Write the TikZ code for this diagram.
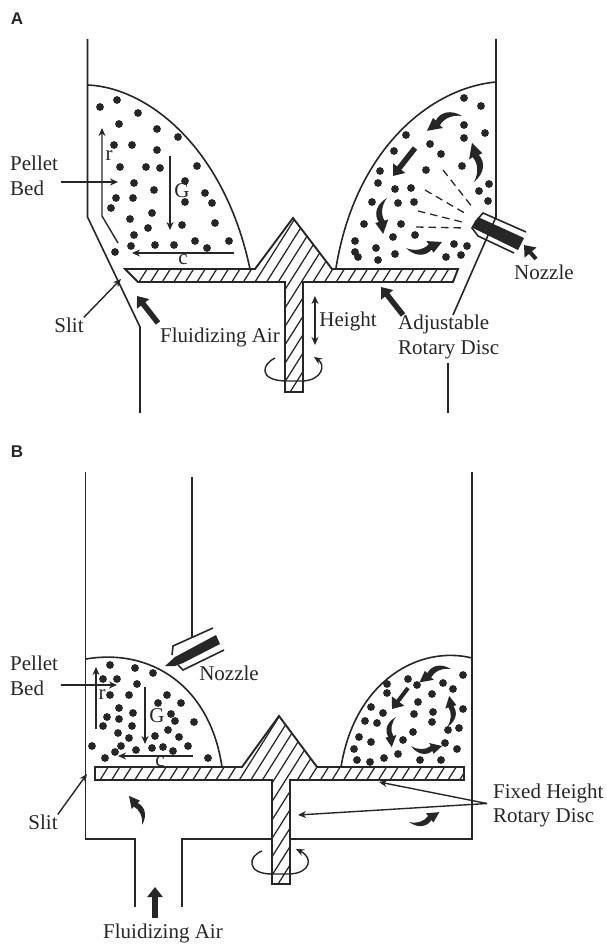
\documentclass[tikz,border=0pt]{standalone}
\usepackage{fontspec}
\setmainfont{Liberation Serif}
\newfontfamily\panelfont{Liberation Sans}
\usepackage{xcolor}
\usetikzlibrary{arrows.meta, positioning}
\definecolor{inkgray}{gray}{0.15}

\tikzset{
  swirl/.pic={
    \fill[inkgray] (0,0) .. controls (8,11) and (19,12) .. (26,6) -- (27.5,9.5) -- (38,0)
      -- (22.2,-3.6) -- (24,0) .. controls (18,5) and (8,5) .. (0,0) -- cycle;
  }
}

\begin{document}
\begin{tikzpicture}[x=1pt, y=-1pt, line join=miter,
    every node/.style={font=\fontsize{21}{24.5}\selectfont, inner sep=0pt, text=inkgray},
    wall/.style={draw=inkgray, line width=1.6pt},
    hatchline/.style={draw=inkgray, line width=1.25pt},
    outline/.style={draw=inkgray, line width=1.9pt},
    leader/.style={draw=inkgray, line width=1.4pt, -{Stealth[length=8pt,width=7pt]}},
    twoway/.style={draw=inkgray, line width=1.4pt, {Stealth[length=8pt,width=7pt]}-{Stealth[length=8pt,width=7pt]}},
    spray/.style={draw=inkgray, line width=1.3pt, dash pattern=on 7.5pt off 5pt},
    turning/.style={draw=inkgray, line width=1.4pt, -{Stealth[length=8pt,width=7pt]}},
    flowarrow/.style={draw=inkgray, line width=5.5pt, -{Triangle[length=10pt,width=15pt]}},
    paneltag/.style={font=\panelfont\bfseries\fontsize{17}{20}\selectfont}]
    \useasboundingbox (0,0) rectangle (607,944);

    % Panel A
    \node[paneltag] (tagA) at (17,19) {A};
    \draw[wall] (87.5,39) -- (87.5,217) -- (140,327) -- (140,413);
    \draw[wall] (496,39) -- (496,217) -- (453,315);
    \draw[wall] (448,363) -- (448,413);

    % Bed A
    \draw[wall] (88,85) .. controls (150,88) and (225,150) .. (250,269);
    \draw[wall] (496,82) .. controls (430,88) and (355,150) .. (336,268);
    \foreach \x/\y in {100/107,117/100,138/113,119/124,157/129,178/137,114/145,132/145,157/150,
        120/167,146/167,160/168,197/166,185/181,134/183,154/190,116/198,133/198,205/193,185/202,
        212/203,111/208,152/213,130/219,148/228,134/235,182/225,215/223,131/246,115/252,155/245,
        174/245,195/241,207/248,229/241,
        464/98,481/106,464/125,485/133,464/138,406/135,430/144,441/154,394/151,462/166,426/170,
        380/171,378/183,489/184,479/191,395/189,411/188,488/201,372/202,398/203,414/202,364/224,
        401/224,415/235,393/237,355/241,376/248,454/244,467/246,355/252,358/257,395/254,378/260,
        446/257,461/255}
      \fill[inkgray] (\x,\y) circle (3.9pt);

    % Disc A
    \begin{scope}
      \clip (125,269) -- (255,269) -- (293,218) -- (332,269) -- (458,269) -- (453,282) -- (303,282)
        -- (303,392) -- (285,392) -- (285,282) -- (138,282) -- cycle;
      \foreach \k in {139,150.6,...,480}
        \draw[hatchline] ({\k+50.4},202) -- ({\k-75.6},402);
    \end{scope}
    \draw[outline] (125,269) -- (255,269) -- (293,218) -- (332,269) -- (458,269) -- (453,282) -- (303,282)
        -- (303,392) -- (285,392) -- (285,282) -- (138,282) -- cycle;
    \draw[turning] (275,358) .. controls (262,364) and (258,380) .. (285,381)
        -- (303,381) .. controls (322,380) and (326,365) .. (314,357);

    % Nozzle A
    \draw[wall] (526,232) -- (483,213) -- (476,221) -- (472,228) -- (478,236) -- (514,253);
    \fill[inkgray] (478,217) -- (524,238) -- (518,250) -- (473,228) -- cycle;
    \draw[spray] (443,170) -- (473,208);
    \draw[spray] (425,190) -- (468,215);
    \draw[spray] (418,211) -- (462,222);
    \draw[spray] (416,227) -- (465,228);

    % Flow A
    \pic[rotate=203] at (462,116) {swirl};
    \pic[rotate=93, scale=1.03] at (474,182) {swirl};
    \pic[rotate=264, scale=0.95] at (387,198) {swirl};
    \pic[rotate=9.5, scale=0.96] at (406,248) {swirl};
    \draw[flowarrow] (415,148) -- (393,176);
    \draw[flowarrow] (158,323) -- (137,296);
    \draw[flowarrow] (403,315) -- (381,287);
    \draw[flowarrow, line width=4pt] (536,259) -- (524,245);

    % Labels A
    \node[align=left, anchor=west] (pelletA) at (10,176) {Pellet\\Bed};
    \coordinate (pelletStartA) at (61,182);
    \coordinate (pelletTipA) at (118,182);
    \draw[leader] (pelletStartA) -- (pelletTipA);
    \node (slitA) at (69,325) {Slit};
    \coordinate (slitTipA) at (121,279);
    \draw[leader] (slitA.north east) -- (slitTipA);
    \node (airA) at (220,337) {Fluidizing Air};
    \node (heightA) at (348,321) {Height};
    \coordinate (heightTopA) at (315,296);
    \coordinate (heightEndA) at (315,345);
    \draw[twoway] (heightTopA) -- (heightEndA);
    \node[align=left, anchor=west] (discA) at (398,337) {Adjustable\\Rotary Disc};
    \node[anchor=west] (nozzleA) at (514,272) {Nozzle};

    % Velocity arrows A
    \draw[leader] (118,243) -- (102,216) -- (102,128);
    \draw[leader] (170,156) -- (170,230);
    \draw[leader] (234,253) -- (132,253);
    \node (rA) at (109,156) {r};
    \node (gA) at (182,191) {G};
    \node (cA) at (183,260) {c};

    % Panel B
    \node[paneltag] (tagB) at (17,452) {B};
    \draw[wall] (85.5,472) -- (85.5,839) -- (135,839) -- (135,907);
    \draw[wall] (472,472) -- (472,839) -- (290,839);
    \draw[wall] (272,839) -- (182,839) -- (182,907);
    \draw[wall] (191.7,477) -- (191.7,637);

    % Bed B
    \draw[wall] (86,659) .. controls (150,648) and (210,685) .. (222,767);
    \draw[wall] (472,658) .. controls (420,645) and (355,680) .. (341,767);
    \foreach \x/\y in {110/665,135/668,153/673,103/679,117/679,137/684,110/695,129/695,167/695,
        158/703,181/703,119/708,107/717,119/719,133/713,171/714,175/721,194/722,103/726,132/726,
        168/730,118/733,129/738,155/736,179/737,92/746,121/746,136/750,152/748,163/747,173/751,
        188/746,115/752,105/758,208/758,
        463/675,443/683,453/689,408/679,417/685,387/684,387/693,432/694,418/702,371/707,383/713,
        414/714,433/712,463/709,432/722,365/721,377/723,459/728,448/730,413/732,359/737,403/740,
        371/742,445/743,354/749,457/749,398/754,384/758,357/760,370/762,420/760,441/760}
      \fill[inkgray] (\x,\y) circle (3.9pt);

    % Disc B
    \begin{scope}
      \clip (95,767) -- (242,767) -- (279,716) -- (317,767) -- (464,767) -- (464,780) -- (290,780)
        -- (290,884) -- (272,884) -- (272,780) -- (95,780) -- cycle;
      \foreach \k in {100,111.6,...,480}
        \draw[hatchline] ({\k+50.4},700) -- ({\k-75.6},900);
    \end{scope}
    \draw[outline] (95,767) -- (242,767) -- (279,716) -- (317,767) -- (464,767) -- (464,780) -- (290,780)
        -- (290,884) -- (272,884) -- (272,780) -- (95,780) -- cycle;
    \draw[turning] (262,851) .. controls (248,856) and (246,874) .. (272,874)
        -- (290,874) .. controls (310,873) and (314,858) .. (296,849);

    % Nozzle B
    \draw[wall] (213,628) -- (173,646) -- (172,655);
    \draw[wall] (224,650) -- (183,670) -- (178,665);
    \fill[inkgray] (165,666) -- (175,657) -- (216,635) -- (220,644) -- (183,663) -- (175,666) -- cycle;

    % Flow B
    \pic[rotate=203, scale=0.9] at (451,669) {swirl};
    \pic[rotate=86, scale=0.82] at (447,727) {swirl};
    \pic[rotate=262, scale=0.8] at (396,717) {swirl};
    \pic[scale=0.82] at (411,746) {swirl};
    \pic[rotate=18, scale=0.84] at (409,822) {swirl};
    \pic[rotate=114, scale=0.84] at (142,825) {swirl};
    \draw[flowarrow, line width=4pt] (408,688) -- (392,709);
    \draw[flowarrow, line width=6pt] (155,918) -- (155,887);

    % Labels B
    \node[align=left, anchor=west] (pelletB) at (10,676) {Pellet\\Bed};
    \coordinate (pelletStartB) at (61,685);
    \coordinate (pelletTipB) at (117,685);
    \draw[leader] (pelletStartB) -- (pelletTipB);
    \node (slitB) at (43,822) {Slit};
    \coordinate (slitTipB) at (87,774);
    \draw[leader] (slitB.north east) -- (slitTipB);
    \node (nozzleB) at (229,673) {Nozzle};
    \node (airB) at (163,933) {Fluidizing Air};
    \node[align=left, anchor=west] (discB) at (493,805.5) {Fixed Height\\Rotary Disc};
    \coordinate (discTipB) at (379,782);
    \coordinate (stemTipB) at (298,815);
    \draw[leader] (discB.west) ++(-6,-2) -- (discTipB);
    \draw[leader] (discB.west) ++(-6,-2) -- (stemTipB);

    % Velocity arrows B
    \draw[leader] (96,729) -- (96,667);
    \draw[leader] (145,687) -- (145,744);
    \draw[leader] (193,756) -- (118,756);
    \node (rB) at (102,695) {r};
    \node (gB) at (157,716) {G};
    \node (cB) at (160,762) {c};
\end{tikzpicture}
\end{document}
